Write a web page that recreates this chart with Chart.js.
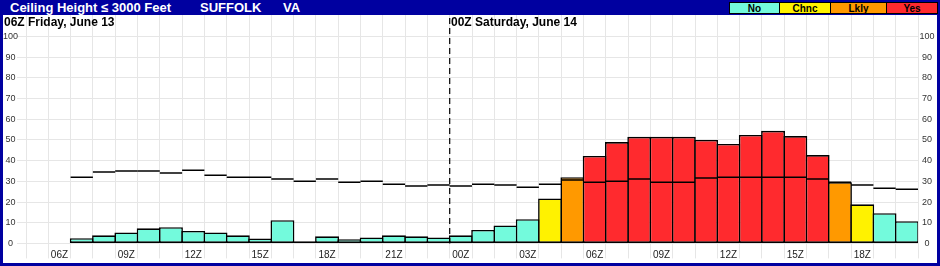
<!DOCTYPE html>
<html>
<head>
<meta charset="utf-8">
<script src="https://cdn.jsdelivr.net/npm/chart.js@4/dist/chart.umd.min.js"></script>
<style>
  html, body { margin: 0; padding: 0; }
  body { width: 940px; height: 266px; background: #0000a0; position: relative; overflow: hidden;
         font-family: "Liberation Sans", Arial, sans-serif; }
  #panel { position: absolute; left: 3px; top: 15px; width: 934px; height: 248px; background: #fff; }
  #chart { position: absolute; left: 0; top: 0; }
  .title { position: absolute; top: 0; height: 15px; line-height: 16px; color: #fff; font-weight: bold; font-size: 13px; white-space: nowrap; }
  .hdr { position: absolute; top: 15px; line-height: 14px; font-size: 12px; font-weight: bold; color: #000; white-space: nowrap; z-index: 2; }
  #legend { position: absolute; top: 2px; left: 730px; height: 11px; display: flex; }
  #legend div { height: 10px; border: 1px solid #000; margin-left: -1px; text-align: center; font-size: 10px; font-weight: bold; line-height: 11px; color: #000; }
</style>
</head>
<body>
<div id="panel"></div>
<div class="title" style="left:10px">Ceiling Height ≤ 3000 Feet</div>
<div class="title" style="left:200px">SUFFOLK</div>
<div class="title" style="left:283px">VA</div>
<div id="legend">
  <div style="width:49px;background:#73fadc">No</div>
  <div style="width:50px;background:#fff200">Chnc</div>
  <div style="width:55px;background:#ff9900">Lkly</div>
  <div style="width:50px;background:#ff2a2e">Yes</div>
</div>
<div class="hdr" style="left:4px">06Z Friday, June 13</div>
<div class="hdr" style="left:451px">00Z Saturday, June 14</div>
<canvas id="chart" width="940" height="266"></canvas>
<script>
// Hourly categories (05Z Fri -> 20Z Sat)
const hours = ['05Z','06Z','07Z','08Z','09Z','10Z','11Z','12Z','13Z','14Z','15Z','16Z','17Z','18Z','19Z','20Z','21Z','22Z','23Z',
               '00Z','01Z','02Z','03Z','04Z','05Z','06Z','07Z','08Z','09Z','10Z','11Z','12Z','13Z','14Z','15Z','16Z','17Z','18Z','19Z','20Z'];
// Hours that carry an axis label
const labeledHours = ['00Z','03Z','06Z','09Z','12Z','15Z','18Z','21Z'];
// Probability (%) of ceiling <= 3000 ft
const probability = [null, null,
  2.5, 3.9, 5.3, 7.3, 7.8, 6.0, 5.3, 3.9, 2.4, 11.2, 1.0, 3.4, 2.0, 2.9, 3.9, 3.4, 2.9,
  3.9, 6.5, 8.7, 11.7, 21.7, 32.0, 42.3, 49.0, 51.5, 51.5, 51.5, 50.0, 48.1, 52.4, 54.4, 51.9, 42.7, 29.6, 18.9, 14.6, 10.7];
// Category of each hour
const level = [null, null,
  'No','No','No','No','No','No','No','No','No','No','No','No','No','No','No','No','No',
  'No','No','No','No','Chnc','Lkly','Yes','Yes','Yes','Yes','Yes','Yes','Yes','Yes','Yes','Yes','Yes','Lkly','Chnc','No','No'];
// Climatological frequency (%)
const normal = [null, null,
  32.0, 34.5, 35.0, 35.0, 34.0, 35.4, 33.0, 32.0, 32.0, 31.1, 30.1, 31.1, 29.6, 30.1, 28.6, 27.7, 28.2,
  27.7, 28.6, 28.2, 27.2, 28.6, 30.6, 29.5, 30.1, 31.1, 29.6, 29.6, 31.6, 32.0, 32.0, 32.0, 32.0, 31.1, 29.6, 28.2, 26.7, 26.2];
const yTicks = [0,10,20,30,40,50,60,70,80,90,100];
const dayBreakIndex = 19; // first hour of Saturday

const levelColors = { No: '#73fadc', Chnc: '#fff200', Lkly: '#ff9900', Yes: '#ff2a2e' };
const FONT = '"Liberation Sans", Arial, sans-serif';
const GRID = '#e6e6e6';
const BW = 1.6;
const slotW = (918 - 26) / hours.length;

const dayLine = {
  id: 'dayLine',
  afterDatasetsDraw(chart) {
    const x = chart.scales.x, y = chart.scales.y;
    const px = (x.getPixelForValue(dayBreakIndex - 1) + x.getPixelForValue(dayBreakIndex)) / 2;
    const ctx = chart.ctx;
    ctx.save();
    ctx.strokeStyle = '#000';
    ctx.lineWidth = 1.2;
    ctx.setLineDash([6, 4]);
    ctx.beginPath();
    ctx.moveTo(px, chart.chartArea.top + 3);
    ctx.lineTo(px, y.getPixelForValue(0));
    ctx.stroke();
    ctx.restore();
  }
};

const yTickCommon = (scale) => { scale.ticks = yTicks.map(v => ({ value: v })); };

new Chart(document.getElementById('chart'), {
  type: 'bar',
  data: {
    labels: hours,
    datasets: [
      {
        type: 'line',
        label: 'Normal',
        data: normal,
        showLine: false,
        pointStyle: 'line',
        pointRadius: slotW / 2,
        pointHoverRadius: slotW / 2,
        pointBorderWidth: 1.5,
        pointBorderColor: '#000',
        pointBackgroundColor: '#000',
        order: 0
      },
      {
        label: 'Probability',
        data: probability,
        backgroundColor: level.map(l => l ? levelColors[l] : 'rgba(0,0,0,0)'),
        borderColor: '#000',
        borderWidth: BW,
        borderSkipped: false,
        categoryPercentage: 1,
        barPercentage: (slotW + BW) / slotW,
        order: 1
      }
    ]
  },
  options: {
    responsive: false,
    animation: false,
    events: [],
    layout: { padding: { top: 15, left: 3, right: 3, bottom: 3 } },
    plugins: { legend: { display: false }, tooltip: { enabled: false }, title: { display: false } },
    scales: {
      x: {
        offset: true,
        grid: { offset: true, color: GRID, tickColor: GRID, tickLength: 15, lineWidth: 1 },
        border: { display: false },
        ticks: {
          autoSkip: false, maxRotation: 0, minRotation: 0, padding: -9,
          color: '#222', font: { family: FONT, size: 10 },
          callback: (v, i) => labeledHours.includes(hours[i]) ? hours[i] : ''
        },
        afterFit: (s) => { s.height = 19.6; }
      },
      y: {
        position: 'left',
        min: 0, max: 110.4,
        afterBuildTicks: yTickCommon,
        grid: { color: GRID, tickColor: GRID, tickLength: 9 },
        border: { display: false },
        ticks: { crossAlign: 'center', padding: -1, color: '#333', font: { family: FONT, size: 9 } },
        afterFit: (s) => { s.width = 23; }
      },
      y2: {
        position: 'right',
        min: 0, max: 110.4,
        afterBuildTicks: yTickCommon,
        grid: { drawOnChartArea: false, drawTicks: false },
        border: { display: false },
        ticks: { crossAlign: 'center', padding: 1.5, color: '#333', font: { family: FONT, size: 9 } },
        afterFit: (s) => { s.width = 19; }
      }
    }
  },
  plugins: [dayLine]
});
</script>
</body>
</html>
